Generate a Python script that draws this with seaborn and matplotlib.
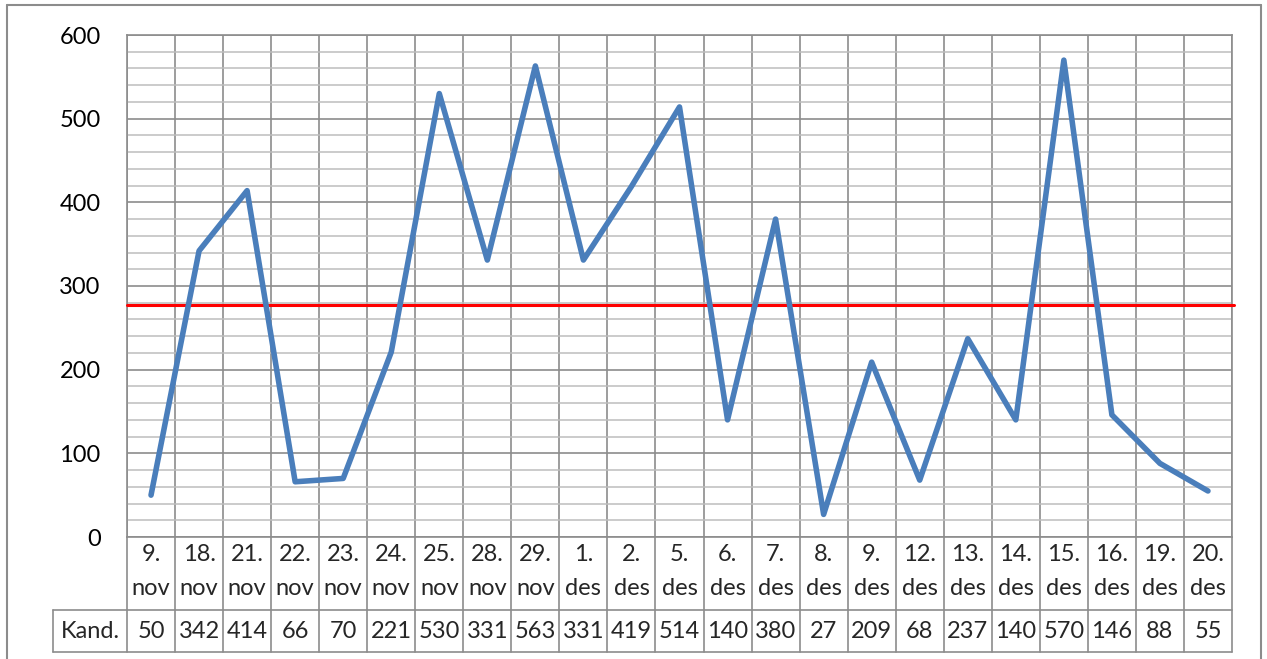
import numpy as np
import pandas as pd
import matplotlib
matplotlib.use("Agg")
import matplotlib.pyplot as plt
import matplotlib.transforms as mtransforms
import seaborn as sns

# Data
days = ["9.", "18.", "21.", "22.", "23.", "24.", "25.", "28.", "29.", "1.", "2.", "5.",
        "6.", "7.", "8.", "9.", "12.", "13.", "14.", "15.", "16.", "19.", "20."]
months = ["nov"] * 9 + ["des"] * 14
kand = [50, 342, 414, 66, 70, 221, 530, 331, 563, 331, 419, 514,
        140, 380, 27, 209, 68, 237, 140, 570, 146, 88, 55]
row_label = "Kand."
threshold = 277
y_ticks = [0, 100, 200, 300, 400, 500, 600]

W, H = 1267, 659
FS = 17
sns.set_theme(style="white")
plt.rcParams["font.family"] = ["Lato", "DejaVu Sans"]

fig = plt.figure(figsize=(W / 100, H / 100), dpi=100)
ax = fig.add_axes([127 / W, (H - 537) / H, 1105 / W, 502 / H])

df = pd.DataFrame({"pos": np.arange(len(kand)), "kand": kand})
sns.lineplot(data=df, x="pos", y="kand", ax=ax, color="#4a7ebb", linewidth=4,
             solid_joinstyle="round", solid_capstyle="round", zorder=5)

n = len(kand)
ax.set_xlim(-0.5, n - 0.5)
ax.set_ylim(0, 600)

# red reference line, poking slightly past the right edge
ax.plot([-0.5, n - 0.45], [threshold, threshold], color="#ff0000", lw=2.2,
        clip_on=False, zorder=4)

# grids
ax.set_yticks(y_ticks)
ax.set_yticks(np.arange(0, 601, 20), minor=True)
ax.set_xticks([])
ax.set_xticks(np.arange(-0.5, n), minor=True)
ax.yaxis.grid(True, which="minor", color="#bdbdbd", lw=1.1)
ax.yaxis.grid(True, which="major", color="#8c8c8c", lw=1.2)
ax.xaxis.grid(True, which="minor", color="#8c8c8c", lw=1.2)
ax.tick_params(axis="y", which="both", length=0, pad=19, labelsize=FS, colors="black")
ax.tick_params(axis="x", which="both", length=0, labelbottom=False)
for s in ax.spines.values():
    s.set_color("#8c8c8c")
    s.set_linewidth(1.2)
ax.set_xlabel("")
ax.set_ylabel("")

# data table below the plot
tr = mtransforms.blended_transform_factory(ax.transData, ax.transAxes)
y_mid = -73 / 502
y_bot = -115 / 502
x_left = -0.5 - 74 / (1105 / n)
grid_kw = dict(color="#8c8c8c", lw=1.2, transform=tr, clip_on=False)
for xb in np.arange(-0.5, n):
    ax.plot([xb, xb], [0, y_bot], **grid_kw)
ax.plot([x_left, n - 0.5], [y_mid, y_mid], **grid_kw)
ax.plot([x_left, n - 0.5], [y_bot, y_bot], **grid_kw)
ax.plot([x_left, x_left], [y_mid, y_bot], **grid_kw)

for i in range(n):
    ax.text(i, y_mid / 2 + 0.004, days[i] + "\n" + months[i], transform=tr,
            ha="center", va="center", fontsize=FS, linespacing=1.75)
    ax.text(i, (y_mid + y_bot) / 2, str(kand[i]), transform=tr,
            ha="center", va="center", fontsize=FS)
ax.text((x_left - 0.5) / 2, (y_mid + y_bot) / 2, row_label, transform=tr,
        ha="center", va="center", fontsize=FS)

# outer chart frame
fig.add_artist(plt.Line2D([7 / W, 7 / W], [0, 1 - 5 / H], color="#8c8c8c", lw=1.5))
fig.add_artist(plt.Line2D([1261 / W, 1261 / W], [0, 1 - 5 / H], color="#8c8c8c", lw=1.5))
fig.add_artist(plt.Line2D([7 / W, 1261 / W], [1 - 5 / H, 1 - 5 / H], color="#8c8c8c", lw=1.5))

fig.savefig("out.png", dpi=100)
